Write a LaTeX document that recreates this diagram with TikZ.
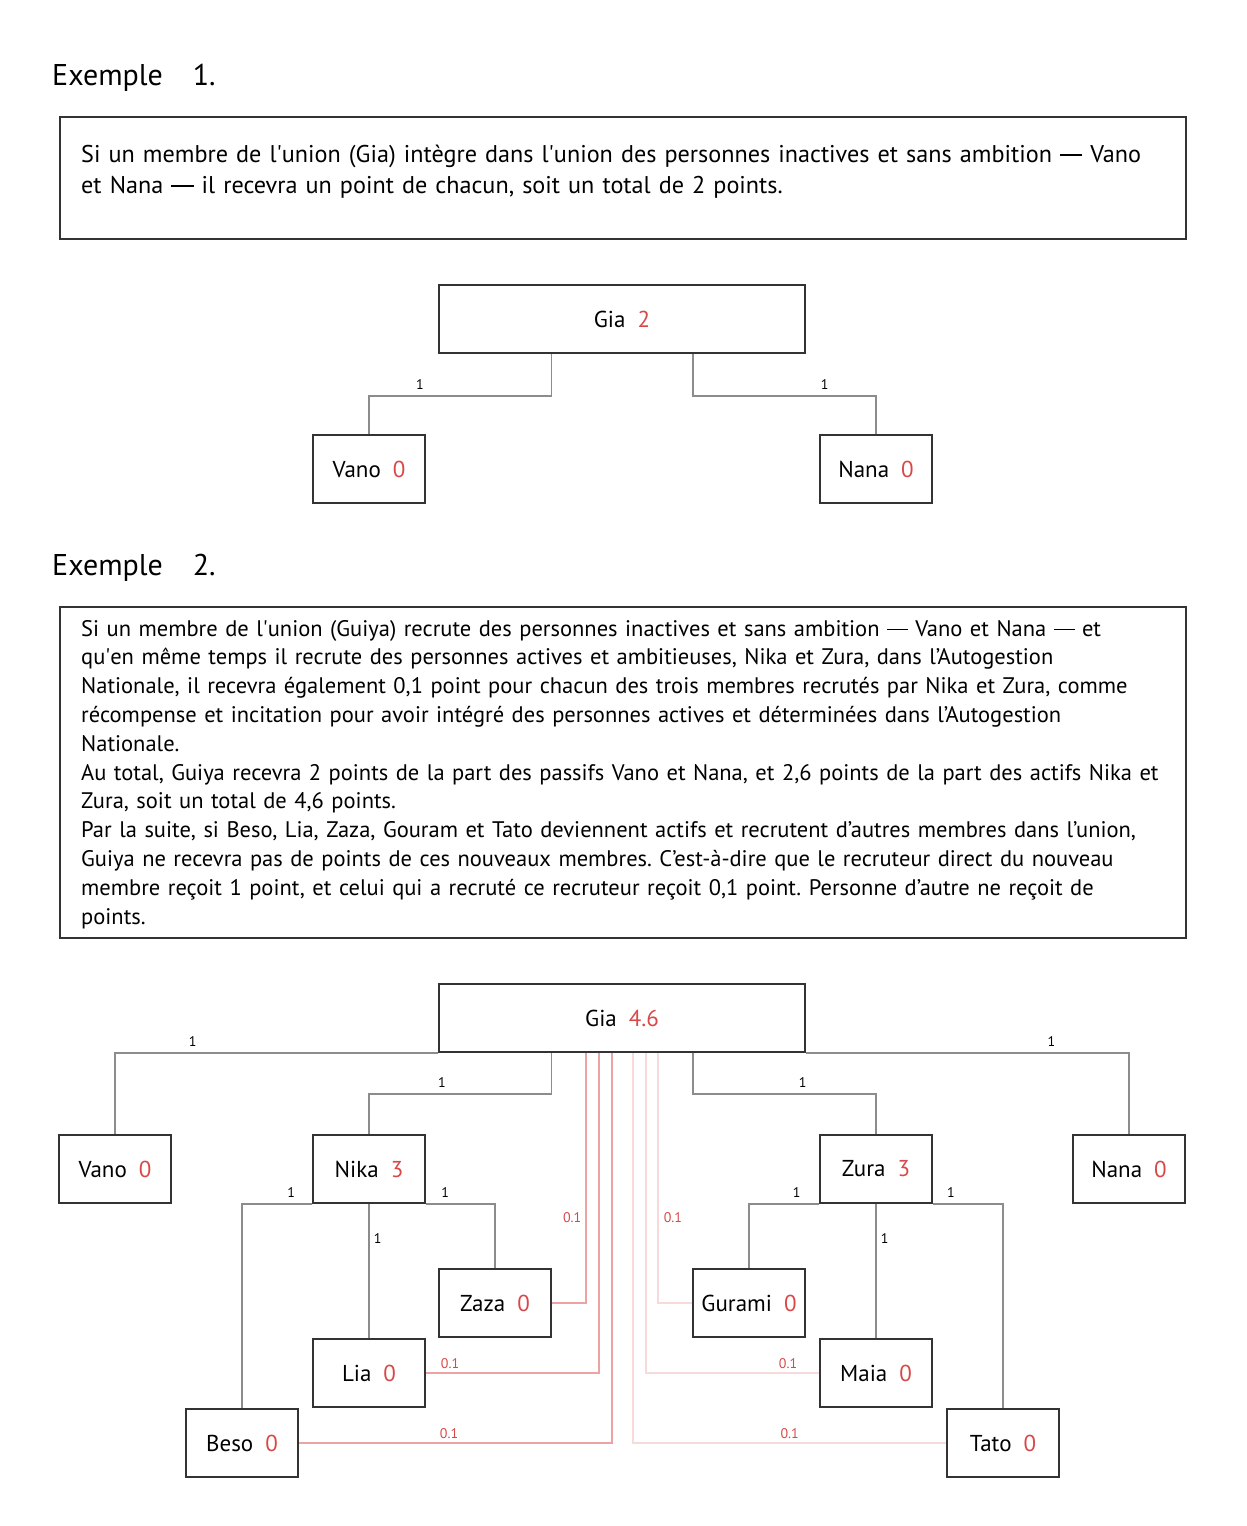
\documentclass[tikz,border=0pt]{standalone}
\usepackage{fontspec}
\setmainfont{PT Sans}
\frenchspacing

\definecolor{pointred}{HTML}{D94848}
\definecolor{boxline}{HTML}{333333}
\definecolor{linkgray}{HTML}{8C8C8C}

\tikzstyle{member box}=[draw=boxline,line width=1.5pt,minimum width=112pt,
    minimum height=68pt,inner sep=0pt,font=\fontsize{23}{28}\selectfont]
\tikzstyle{root box}=[member box,minimum width=366pt]
\tikzstyle{frame}=[draw=boxline,line width=1.5pt,inner sep=0pt,anchor=north west]
\tikzstyle{para}=[anchor=base west,inner sep=0pt,align=left,text width=1100pt]
\tikzstyle{title}=[anchor=base west,inner sep=0pt,font=\fontsize{30}{36}\selectfont]
\tikzstyle{recruit}=[draw=linkgray,line width=1.5pt]
\tikzstyle{bonus near}=[draw=pointred!50,line width=1.5pt]
\tikzstyle{bonus far}=[draw=pointred!20,line width=1.5pt]
\tikzstyle{one label}=[font=\fontsize{14}{16}\selectfont,inner sep=1pt]
\tikzstyle{tenth label}=[one label,text=pointred]
\newcommand{\sq}{\textquotesingle}
\newcommand{\longdash}{\rule[0.26em]{0.92em}{0.055em}}
\newcommand{\member}[5][member box]{
    \node[#1] at (#2) (#3) {#4\hspace{12pt}\textcolor{pointred}{#5}};
}

\begin{document}
\begin{tikzpicture}[x=1pt,y=-1pt]
    \useasboundingbox (0,0) rectangle (1247,1526);
    % Exemple 1
    \node[title] (titleA) at (52,85) {Exemple\hspace{30pt}1.};
    \node[frame,minimum width=1126pt,minimum height=122pt] (frameA) at (59,116) {};
    \node[para,font=\fontsize{24.2}{31}\selectfont] (textA) at (81,162)
        {Si un membre de l\sq union (Gia) intègre dans l\sq union des personnes inactives et sans ambition \longdash{} Vano\\
         et Nana \longdash{} il recevra un point de chacun, soit un total de 2 points.};
    %
    \member[root box]{622,319}{GiaA}{Gia}{2}
    \member{369,469}{VanoA}{Vano}{0}
    \member{876,469}{NanaA}{Nana}{0}
    \draw[recruit] (GiaA.south west) ++(113,0) -- ++(0,42)
        -| node[one label,pos=.36,above=5pt] {1} (VanoA.north);
    \draw[recruit] (GiaA.south east) ++(-113,0) -- ++(0,42)
        -| node[one label,pos=.36,above=5pt] {1} (NanaA.north);
    % Exemple 2
    \node[title] (titleB) at (52,575) {Exemple\hspace{30pt}2.};
    \node[frame,minimum width=1126pt,minimum height=331pt] (frameB) at (59,606) {};
    \node[para,font=\fontsize{22.5}{28.8}\selectfont] (textB) at (81,636)
        {Si un membre de l\sq union (Guiya) recrute des personnes inactives et sans ambition \longdash{} Vano et Nana \longdash{} et\\
         qu\sq en même temps il recrute des personnes actives et ambitieuses, Nika et Zura, dans l’Autogestion\\
         Nationale, il recevra également 0,1 point pour chacun des trois membres recrutés par Nika et Zura, comme\\
         récompense et incitation pour avoir intégré des personnes actives et déterminées dans l’Autogestion\\
         Nationale.\\
         Au total, Guiya recevra 2 points de la part des passifs Vano et Nana, et 2,6 points de la part des actifs Nika et\\
         Zura, soit un total de 4,6 points.\\
         Par la suite, si Beso, Lia, Zaza, Gouram et Tato deviennent actifs et recrutent d’autres membres dans l’union,\\
         Guiya ne recevra pas de points de ces nouveaux membres. C’est-à-dire que le recruteur direct du nouveau\\
         membre reçoit 1 point, et celui qui a recruté ce recruteur reçoit 0,1 point. Personne d’autre ne reçoit de\\
         points.};
    %
    \member[root box]{622,1018}{GiaB}{Gia}{4.6}
    \member{115,1169}{VanoB}{Vano}{0}
    \member{369,1169}{Nika}{Nika}{3}
    \member{876,1169}{Zura}{Zura}{3}
    \member{1129,1169}{NanaB}{Nana}{0}
    \member{242,1443}{Beso}{Beso}{0}
    \member{369,1373}{Lia}{Lia}{0}
    \member{495,1303}{Zaza}{Zaza}{0}
    \member{749,1303}{Gurami}{Gurami}{0}
    \member{876,1373}{Maia}{Maia}{0}
    \member{1003,1443}{Tato}{Tato}{0}
    %
    \draw[recruit] (GiaB.south west) -| node[one label,pos=.38,above=5pt] {1} (VanoB.north);
    \draw[recruit] (GiaB.south east) -| node[one label,pos=.38,above=5pt] {1} (NanaB.north);
    \draw[recruit] (GiaB.south west) ++(113,0) -- ++(0,41)
        -| node[one label,pos=.3,above=5pt] {1} (Nika.north);
    \draw[recruit] (GiaB.south east) ++(-113,0) -- ++(0,41)
        -| node[one label,pos=.3,above=5pt] {1} (Zura.north);
    %
    \draw[recruit] (Nika.south west) -| node[one label,pos=.15,above=5pt] {1} (Beso.north);
    \draw[recruit] (Nika.south) -- node[one label,pos=.26,right=3pt] {1} (Lia.north);
    \draw[recruit] (Nika.south east) -| node[one label,pos=.14,above=5pt] {1} (Zaza.north);
    \draw[recruit] (Zura.south west) -| node[one label,pos=.16,above=5pt] {1} (Gurami.north);
    \draw[recruit] (Zura.south) -- node[one label,pos=.26,right=3pt] {1} (Maia.north);
    \draw[recruit] (Zura.south east) -| node[one label,pos=.13,above=5pt] {1} (Tato.north);
    %
    \draw[bonus near] (Zaza.east) -| node[tenth label,pos=.67,left=3pt] {0.1} ([xshift=-36pt]GiaB.south);
    \draw[bonus near] (Lia.east) -| node[tenth label,pos=.07,above=3pt] {0.1} ([xshift=-23pt]GiaB.south);
    \draw[bonus near] (Beso.east) -| node[tenth label,pos=.24,above=3pt] {0.1} ([xshift=-10pt]GiaB.south);
    \draw[bonus far] (Gurami.west) -| node[tenth label,pos=.67,right=4pt] {0.1} ([xshift=36pt]GiaB.south);
    \draw[bonus far] (Maia.west) -| node[tenth label,pos=.09,above=3pt] {0.1} ([xshift=24pt]GiaB.south);
    \draw[bonus far] (Tato.west) -| node[tenth label,pos=.25,above=3pt] {0.1} ([xshift=11pt]GiaB.south);
\end{tikzpicture}
\end{document}
